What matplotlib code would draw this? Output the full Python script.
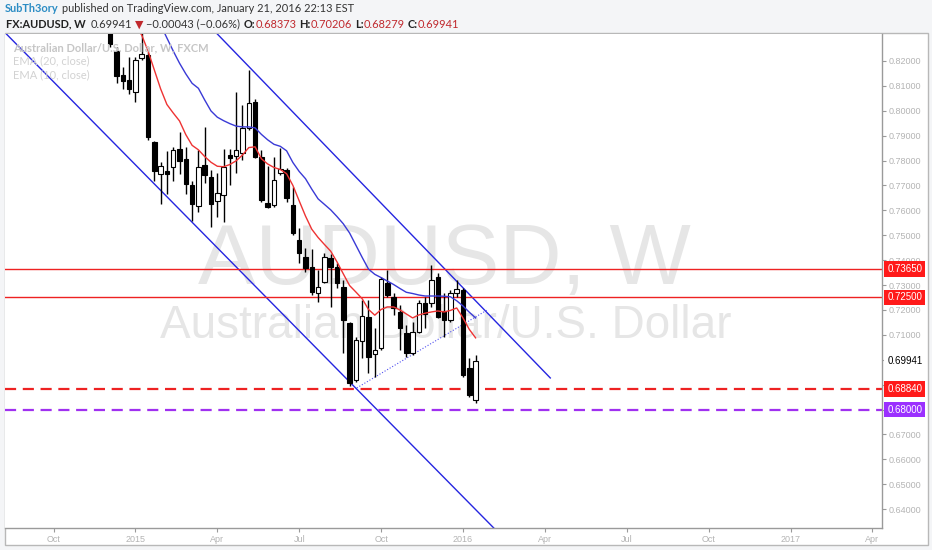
import numpy as np
import pandas as pd
import matplotlib
matplotlib.use('Agg')
import matplotlib.pyplot as plt
import matplotlib.dates as mdates
import matplotlib.transforms as mtrans
from matplotlib.patches import Rectangle

# Weekly AUDUSD bars (week start dates)
dates = pd.date_range('2014-12-08', periods=59, freq='W-MON')

opens = [0.8330, 0.8240, 0.8144, 0.8124, 0.8076, 0.8212, 0.8224, 0.7875, 0.7746, 0.7758,
         0.7774, 0.7847, 0.7806, 0.7702, 0.7618, 0.7782, 0.7734, 0.7638, 0.7662, 0.7822,
         0.7818, 0.7831, 0.7931, 0.8035, 0.7814, 0.7630, 0.7622, 0.7750, 0.7762, 0.7622,
         0.7481, 0.7413, 0.7373, 0.7268, 0.7312, 0.7409, 0.7373, 0.7292, 0.7148, 0.6919,
         0.7076, 0.7172, 0.7023, 0.7047, 0.7308, 0.7252, 0.7192, 0.7108, 0.7027, 0.7112,
         0.7228, 0.7228, 0.7333, 0.7196, 0.7160, 0.7268, 0.7280, 0.6967, 0.68373]
highs = [0.8350, 0.8256, 0.8176, 0.8216, 0.8216, 0.8330, 0.8236, 0.7880, 0.7794, 0.7839,
         0.7855, 0.7915, 0.7855, 0.7718, 0.7843, 0.7935, 0.7762, 0.7750, 0.7847, 0.7847,
         0.8075, 0.8023, 0.8164, 0.8047, 0.7843, 0.7778, 0.7814, 0.7851, 0.7770, 0.7694,
         0.7529, 0.7449, 0.7445, 0.7361, 0.7429, 0.7425, 0.7389, 0.7320, 0.7152, 0.7092,
         0.7240, 0.7240, 0.7128, 0.7333, 0.7361, 0.7268, 0.7220, 0.7140, 0.7152, 0.7240,
         0.7252, 0.7381, 0.7349, 0.7268, 0.7280, 0.7320, 0.7288, 0.7007, 0.70206]
lows = [0.8256, 0.8112, 0.8088, 0.8067, 0.8035, 0.8204, 0.7883, 0.7718, 0.7626, 0.7666,
        0.7718, 0.7746, 0.7666, 0.7557, 0.7594, 0.7710, 0.7533, 0.7573, 0.7553, 0.7702,
        0.7750, 0.7802, 0.7923, 0.7810, 0.7634, 0.7610, 0.7614, 0.7742, 0.7634, 0.7501,
        0.7389, 0.7353, 0.7260, 0.7232, 0.7308, 0.7212, 0.7288, 0.7027, 0.6895, 0.6911,
        0.7007, 0.6947, 0.6931, 0.7039, 0.7252, 0.7180, 0.7039, 0.7011, 0.7019, 0.7108,
        0.7128, 0.7212, 0.7168, 0.7092, 0.7152, 0.7252, 0.6931, 0.6851, 0.68279]
closes = [0.8268, 0.8140, 0.8120, 0.8088, 0.8204, 0.8228, 0.7895, 0.7758, 0.7778, 0.7746,
          0.7843, 0.7798, 0.7706, 0.7626, 0.7774, 0.7742, 0.7626, 0.7670, 0.7774, 0.7810,
          0.7843, 0.7931, 0.8031, 0.7814, 0.7642, 0.7614, 0.7722, 0.7766, 0.7650, 0.7509,
          0.7429, 0.7369, 0.7272, 0.7292, 0.7413, 0.7373, 0.7308, 0.7160, 0.6907, 0.7080,
          0.7176, 0.7011, 0.7039, 0.7325, 0.7260, 0.7208, 0.7128, 0.7027, 0.7112, 0.7228,
          0.7184, 0.7320, 0.7172, 0.7160, 0.7268, 0.7284, 0.6939, 0.6859, 0.69941]

ema10 = [0.8500, 0.8460, 0.8410, 0.8370, 0.8340, 0.8304, 0.8240, 0.8164, 0.8088, 0.8025,
         0.7991, 0.7959, 0.7904, 0.7861, 0.7843, 0.7816, 0.7793, 0.7777, 0.7775, 0.7784,
         0.7799, 0.7822, 0.7852, 0.7855, 0.7807, 0.7786, 0.7772, 0.7764, 0.7747, 0.7700,
         0.7638, 0.7577, 0.7524, 0.7491, 0.7463, 0.7436, 0.7393, 0.7345, 0.7298, 0.7272,
         0.7245, 0.7202, 0.7179, 0.7202, 0.7212, 0.7212, 0.7200, 0.7184, 0.7168, 0.7180,
         0.7187, 0.7192, 0.7196, 0.7192, 0.7198, 0.7208, 0.7168, 0.7122, 0.7088]
ema20 = [0.8560, 0.8520, 0.8480, 0.8450, 0.8420, 0.8400, 0.8380, 0.8360, 0.8345, 0.8292,
         0.8240, 0.8191, 0.8148, 0.8110, 0.8090, 0.8043, 0.7999, 0.7974, 0.7960, 0.7948,
         0.7938, 0.7935, 0.7935, 0.7931, 0.7905, 0.7883, 0.7865, 0.7857, 0.7839, 0.7792,
         0.7756, 0.7727, 0.7685, 0.7646, 0.7624, 0.7602, 0.7575, 0.7546, 0.7509, 0.7460,
         0.7411, 0.7364, 0.7343, 0.7330, 0.7316, 0.7302, 0.7286, 0.7271, 0.7266, 0.7260,
         0.7256, 0.7256, 0.7256, 0.7255, 0.7253, 0.7237, 0.7216, 0.7191, 0.7168]

# drawn lines: (date, price) anchors
lower_channel = [('2014-08-19', 0.8292), ('2016-02-06', 0.6329)]
upper_channel = [('2015-03-18', 0.8379), ('2016-04-10', 0.6927)]
dotted_trend = [('2015-09-08', 0.6887), ('2016-01-31', 0.7200)]

# horizontal levels
solid_levels = [0.7365, 0.7250]
red_dash_level = 0.6884
purple_dash_level = 0.6800
last_price = 0.69941

y_ticks = np.arange(0.64, 0.8201, 0.01)
hidden_ticks = [0.70, 0.69]   # covered by the price tags

W, H = 932, 550
fig = plt.figure(figsize=(W / 100, H / 100), dpi=100, facecolor='#f4f5f7')

# chart panel
fig.patches.append(Rectangle((5 / W, 1 - 545 / H), 923 / W, 512 / H, transform=fig.transFigure,
                             facecolor='white', edgecolor='#b8b8b8', lw=1, zorder=-1))

ax = fig.add_axes([5 / W, 1 - 528 / H, 877 / W, 494 / H])
ax.set_facecolor('white')

x = mdates.date2num(dates)
last = x[-1]
ax.set_xlim(last - 522.9, last + 451.6)
ax.set_ylim(0.63245, 0.8308)

# watermark
wm = dict(color='#e6e6e6', ha='center', va='center', transform=ax.transAxes, zorder=0,
          family='Liberation Sans')
ax.text(0.5006, 0.538, 'AUDUSD, W', fontsize=62, **wm)
ax.text(0.502, 0.409, 'Australian Dollar/U.S. Dollar', fontsize=33, **wm)

# candles
for xi, o, h, l, c in zip(x, opens, highs, lows, closes):
    ax.vlines(xi, l, h, color='black', lw=1, zorder=3)
    up = c >= o
    bottom = min(o, c)
    height = max(abs(c - o), 0.0003)
    ax.add_patch(Rectangle((xi - 2.5, bottom), 5, height, facecolor='white' if up else 'black',
                           edgecolor='black', lw=0.8, zorder=4))

# EMAs
ax.plot(x, ema10, color='#ee3333', lw=1, zorder=5)
ax.plot(x, ema20, color='#3a3ad6', lw=1, zorder=5)

# channel and trendline
def anchors(pts):
    return [(mdates.date2num(pd.Timestamp(d)), p) for d, p in pts]

la = anchors(lower_channel)
ax.axline(la[0], la[1], color='#2525e0', lw=1, zorder=2)
ua = anchors(upper_channel)
ax.plot([ua[0][0], ua[1][0]], [ua[0][1], ua[1][1]], color='#2525e0', lw=1, zorder=2)
da = anchors(dotted_trend)
ax.plot([da[0][0], da[1][0]], [da[0][1], da[1][1]], color='#5050f0', lw=0.8, ls=':', zorder=2)

# horizontal levels
for lv in solid_levels:
    ax.axhline(lv, color='#ee2222', lw=1, zorder=2)
ax.axhline(red_dash_level, color='#ee2222', lw=1.6, ls=(0, (5, 3)), zorder=2)
ax.axhline(purple_dash_level, color='#a030f0', lw=1.6, ls=(0, (5, 3)), zorder=2)

# axes styling
for s in ['left', 'top']:
    ax.spines[s].set_visible(False)
for s in ['right', 'bottom']:
    ax.spines[s].set_color('#9a9a9a')
    ax.spines[s].set_linewidth(1)

ax.yaxis.tick_right()
ax.set_yticks(y_ticks)
ax.set_yticklabels(['' if any(abs(v - hv) < 1e-6 for hv in hidden_ticks) else '%.5f' % v
                    for v in y_ticks])
ax.tick_params(axis='y', length=3, color='#9a9a9a', labelcolor='#b4b4b4', labelsize=6.5, pad=2)
for lab in ax.get_yticklabels():
    lab.set_family('Liberation Sans')

# quarterly ticks at first weekly bar of the month
months = pd.date_range('2014-10-01', '2017-04-01', freq='QS-OCT')
tick_dates = [m + pd.Timedelta(days=(7 - m.weekday()) % 7) for m in months]
tick_labels = [str(m.year) if m.month == 1 else m.strftime('%b') for m in months]
ax.set_xticks(mdates.date2num(tick_dates))
ax.set_xticklabels(tick_labels)
ax.tick_params(axis='x', length=3, color='#9a9a9a', labelcolor='#b4b4b4', labelsize=6.5, pad=2)
for lab in ax.get_xticklabels():
    lab.set_family('Liberation Sans')

# price labels on the right scale
blend = mtrans.blended_transform_factory(ax.transAxes, ax.transData)
def price_tag(val, fc, tc):
    ax.text(1.006, val, '%.5f' % val, transform=blend, ha='left', va='center', color=tc,
            fontsize=7, family='Liberation Sans', clip_on=False, zorder=10,
            bbox=dict(boxstyle='square,pad=0.3', fc=fc, ec='none'))

for lv in solid_levels:
    price_tag(lv, '#ff1a1a', 'white')
price_tag(last_price, 'white', 'black')
price_tag(red_dash_level, '#ff1a1a', 'white')
price_tag(purple_dash_level, '#9b30ff', 'white')

# legend inside the pane
ax.text(8 / 877, (528 - 48) / 494, 'Australian Dollar/U.S. Dollar, W, FXCM', transform=ax.transAxes,
        color='#c6c6c6', fontsize=8, fontweight='bold', va='center', family=['Lato', 'DejaVu Sans'], zorder=6)
ax.text(8 / 877, (528 - 61) / 494, 'EMA (20, close)', transform=ax.transAxes,
        color='#d2d2d2', fontsize=8, va='center', family=['Lato', 'DejaVu Sans'], zorder=6)
ax.text(8 / 877, (528 - 75) / 494, 'EMA (10, close)', transform=ax.transAxes,
        color='#d2d2d2', fontsize=8, va='center', family=['Lato', 'DejaVu Sans'], zorder=6)

# header lines
renderer = fig.canvas.get_renderer()
def chain(pieces, x0, y0, size):
    xp = x0
    for s, col, wt, gap in pieces:
        t = fig.text(xp / W, 1 - y0 / H, s, color=col, fontweight=wt, fontsize=size,
                     ha='left', va='center', family=['Lato', 'DejaVu Sans'])
        bb = t.get_window_extent(renderer)
        xp = bb.x1 + gap

red = '#c0282d'
chain([('SubTh3ory', '#2b8cc4', 'bold', 3),
       ('published on TradingView.com, January 21, 2016 22:13 EST', '#333333', 'normal', 0)],
      5, 9, 7.9)
chain([('FX:AUDUSD, W', '#222222', 'bold', 5),
       ('0.69941', '#333333', 'normal', 3),
       ('\u25bc', '#c0282d', 'normal', 2),
       ('\u22120.00043 (\u22120.06%)', '#333333', 'normal', 4),
       ('O:', '#222222', 'bold', 0), ('0.68373', red, 'normal', 3),
       ('H:', '#222222', 'bold', 0), ('0.70206', red, 'normal', 3),
       ('L:', '#222222', 'bold', 0), ('0.68279', red, 'normal', 3),
       ('C:', '#222222', 'bold', 0), ('0.69941', red, 'normal', 0)],
      6, 24, 7.9)

fig.savefig('out.png', dpi=100, facecolor=fig.get_facecolor())
